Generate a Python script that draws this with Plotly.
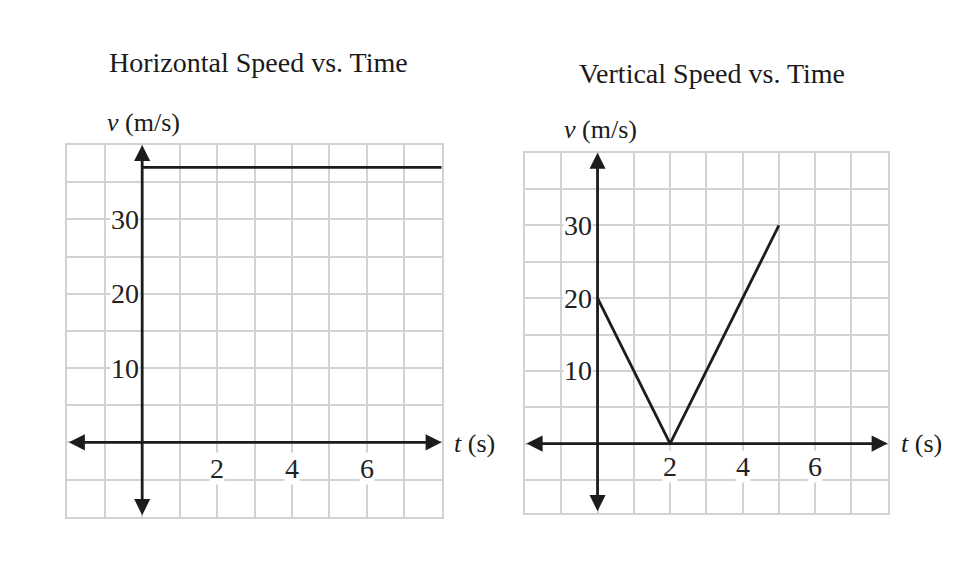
import plotly.graph_objects as go

W, H = 972, 562
OFF = 8  # page body margin offset

# ---- data ----
horiz_t = [0, 8]
horiz_v = [37, 37]
vert_t = [0, 2, 5]
vert_v = [20, 0, 30]
x_tick_vals = [2, 4, 6]
y_tick_vals = [10, 20, 30]
titles = ["Horizontal Speed vs. Time", "Vertical Speed vs. Time"]

FONT = "Liberation Serif"
INK = "#1c1c1c"
GRID = "#d2d2d2"


def px(x):
    return (x - OFF) / W


def py(y):
    return 1 - (y - OFF) / H


panels = [
    dict(xd=(67.3, 441.7), yd=(145, 516.7), xr=(-2, 8), yr=(-10, 40),
         title=(258, 63), vlab=(143, 122), tlab=(452, 444), ytick_shift=-2, xtick_shift=-26),
    dict(xd=(525, 887.7), yd=(152.7, 512.7), xr=(-2, 8), yr=(-9.5, 40),
         title=(712, 73), vlab=(600, 130), tlab=(899, 443), ytick_shift=-5, xtick_shift=-23),
]

fig = go.Figure()

fig.add_trace(go.Scatter(x=horiz_t, y=horiz_v, mode="lines",
                         line=dict(color=INK, width=2.8), xaxis="x", yaxis="y",
                         cliponaxis=False, showlegend=False, hoverinfo="skip"))
fig.add_trace(go.Scatter(x=vert_t, y=vert_v, mode="lines",
                         line=dict(color=INK, width=2.8), xaxis="x2", yaxis="y2",
                         cliponaxis=False, showlegend=False, hoverinfo="skip"))

annotations = []
layout_axes = {}
for i, p in enumerate(panels):
    sfx = "" if i == 0 else str(i + 1)
    xref, yref = "x" + sfx, "y" + sfx
    layout_axes["xaxis" + sfx] = dict(
        domain=[px(p["xd"][0]), px(p["xd"][1])], range=list(p["xr"]),
        anchor=yref, tick0=0, dtick=1, showgrid=True, gridcolor=GRID, gridwidth=2,
        zeroline=False, showticklabels=False, ticks="", showline=True, mirror=True,
        linecolor=GRID, linewidth=2, fixedrange=True)
    layout_axes["yaxis" + sfx] = dict(
        domain=[py(p["yd"][1]), py(p["yd"][0])], range=list(p["yr"]),
        anchor=xref, tick0=0, dtick=5, showgrid=True, gridcolor=GRID, gridwidth=2,
        zeroline=False, showticklabels=False, ticks="", showline=True, mirror=True,
        linecolor=GRID, linewidth=2, fixedrange=True)

    # axis arrows
    common = dict(xref=xref, yref=yref, axref=xref, ayref=yref, text="", showarrow=True,
                  arrowhead=2, startarrowhead=2, arrowside="end+start", arrowwidth=2.8,
                  arrowsize=1.15, startarrowsize=1.15, arrowcolor=INK, standoff=0, startstandoff=0)
    annotations.append(dict(common, x=p["xr"][1], y=0, ax=p["xr"][0], ay=0))
    annotations.append(dict(common, x=0, y=p["yr"][1], ax=0, ay=p["yr"][0]))

    # tick labels
    for v in y_tick_vals:
        annotations.append(dict(xref=xref, yref=yref, x=0, y=v, text=str(v), showarrow=False,
                                xanchor="right", yanchor="middle", xshift=p["ytick_shift"],
                                bgcolor="white", borderpad=0,
                                font=dict(family=FONT, size=28, color="#222222")))
    for t in x_tick_vals:
        annotations.append(dict(xref=xref, yref=yref, x=t, y=0, text=str(t), showarrow=False,
                                xanchor="center", yanchor="middle", yshift=p["xtick_shift"],
                                bgcolor="white", borderpad=0,
                                font=dict(family=FONT, size=28, color="#222222")))

    # titles and axis labels
    annotations.append(dict(xref="paper", yref="paper", x=px(p["title"][0]), y=py(p["title"][1]),
                            text=titles[i], showarrow=False, xanchor="center", yanchor="middle",
                            font=dict(family=FONT, size=28, color="#1a1a1a")))
    annotations.append(dict(xref="paper", yref="paper", x=px(p["vlab"][0]), y=py(p["vlab"][1]),
                            text="<i>v</i> (m/s)", showarrow=False, xanchor="center", yanchor="middle",
                            font=dict(family=FONT, size=26, color="#1a1a1a")))
    annotations.append(dict(xref="paper", yref="paper", x=px(p["tlab"][0]), y=py(p["tlab"][1]),
                            text="<i>t</i> (s)", showarrow=False, xanchor="left", yanchor="middle",
                            font=dict(family=FONT, size=26, color="#1a1a1a")))

fig.update_layout(
    width=W, height=H, margin=dict(l=0, r=0, t=0, b=0),
    paper_bgcolor="white", plot_bgcolor="white", showlegend=False,
    annotations=annotations, **layout_axes)

fig.write_html("out.html", config={"displayModeBar": False})
